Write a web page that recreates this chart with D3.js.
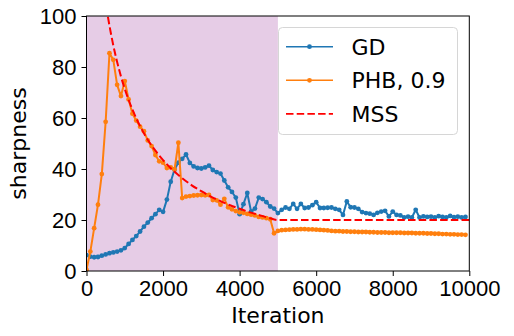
<!DOCTYPE html>
<html>
<head>
<meta charset="utf-8">
<script src="https://cdn.jsdelivr.net/npm/d3@7"></script>
<style>
  body { margin: 0; background: #fff; }
  svg { display: block; font-family: "DejaVu Sans", sans-serif; }
  .axis text { font-size: 22px; fill: #000; }
  .axis line { stroke: #000; stroke-width: 1; }
</style>
</head>
<body>
<div id="chart"></div>
<script>
// iterations where sharpness was measured
var iterations = [
  0, 100, 200, 300, 400, 500, 600, 700, 800, 900,
  1000, 1100, 1200, 1300, 1400, 1500, 1600, 1700, 1800, 1900,
  2000, 2100, 2200, 2300, 2400, 2500, 2600, 2700, 2800, 2900,
  3000, 3100, 3200, 3300, 3400, 3500, 3600, 3700, 3800, 3900,
  4000, 4100, 4200, 4300, 4400, 4500, 4600, 4700, 4800, 4900,
  5000, 5100, 5200, 5300, 5400, 5500, 5600, 5700, 5800, 5900,
  6000, 6100, 6200, 6300, 6400, 6500, 6600, 6700, 6800, 6900,
  7000, 7100, 7200, 7300, 7400, 7500, 7600, 7700, 7800, 7900,
  8000, 8100, 8200, 8300, 8400, 8500, 8600, 8700, 8800, 8900,
  9000, 9100, 9200, 9300, 9400, 9500, 9600, 9700, 9800, 9900
];

var gdValues = [
  6.2, 5.6, 5.4, 5.5, 6.0, 6.5, 7.0, 7.3, 7.6, 8.1,
  9.0, 10.6, 12.2, 13.7, 15.5, 17.4, 19.0, 20.7, 22.3, 24.0,
  23.2, 28.0, 35.0, 39.8, 42.5, 44.0, 45.7, 42.4, 41.0, 40.4,
  40.2, 40.6, 41.3, 39.6, 38.8, 38.2, 35.5, 32.8, 31.0, 28.8,
  22.3, 26.2, 30.6, 23.3, 24.5, 28.8, 28.2, 27.0, 25.3, 24.5,
  22.7, 24.0, 24.9, 24.4, 26.3, 24.4, 26.3, 24.7, 24.9, 25.8,
  27.0, 24.7, 24.7, 24.8, 24.9, 24.4, 24.0, 22.0, 27.3, 25.0,
  24.9, 24.4, 23.1, 22.7, 22.5, 22.0, 22.8, 23.3, 23.6, 21.4,
  23.3, 22.0, 21.8, 21.0, 21.3, 21.0, 24.0, 21.0, 21.4, 21.2,
  21.3, 21.0, 21.5, 21.2, 21.0, 21.6, 21.1, 21.3, 21.0, 21.2
];

var phbValues = [
  0.5, 7.6, 16.8, 26.0, 38.0, 58.5, 85.4, 82.8, 73.0, 68.6,
  74.5, 67.3, 61.7, 59.0, 56.6, 54.8, 51.2, 49.0, 45.5, 43.0,
  42.5, 40.4, 40.6, 39.8, 50.3, 28.6, 29.2, 29.4, 29.6, 29.7,
  29.8, 29.7, 29.8, 27.8, 27.7, 26.0, 28.3, 25.0, 24.2, 23.5,
  23.0, 22.8, 22.4, 22.1, 21.8, 21.2, 21.0, 20.7, 20.3, 14.8,
  15.7, 16.0, 16.1, 16.2, 16.3, 16.3, 16.4, 16.4, 16.3, 16.3,
  16.2, 16.1, 16.0, 15.9, 15.7, 15.6, 15.6, 15.5, 15.5, 15.4,
  15.4, 15.3, 15.3, 15.3, 15.2, 15.2, 15.1, 15.1, 15.1, 15.0,
  15.0, 15.0, 15.0, 14.9, 14.9, 14.9, 14.8, 14.8, 14.8, 14.7,
  14.7, 14.6, 14.6, 14.5, 14.5, 14.4, 14.4, 14.3, 14.3, 14.2
];

// maximum stable sharpness
var mssIterations = [400, 500, 600, 700, 800, 900, 1000, 1200, 1400, 1600, 1800, 2000,
  2250, 2500, 2750, 3000, 3250, 3500, 3750, 4000, 4250, 4500, 4750, 5000, 10000];
var mssValues = [116.3, 105.3, 96.2, 88.5, 82.0, 76.3, 71.4, 63.3, 56.8, 51.5, 47.2, 43.5,
  39.6, 36.4, 33.6, 31.3, 29.2, 27.4, 25.8, 24.4, 23.1, 22.0, 20.9, 20.0, 20.0];

var xTicks = [0, 2000, 4000, 6000, 8000, 10000];
var yTicks = [0, 20, 40, 60, 80, 100];
var warmupEnd = 5000;

var width = 514;
var height = 336;
var margin = { top: 16, right: 45, bottom: 65, left: 86.5 };
var w = 469.3 - margin.left;
var h = 271 - margin.top;

var svg = d3.select('#chart').append('svg')
    .attr('width', width)
    .attr('height', height);

var g = svg.append('g')
    .attr('transform', 'translate(' + margin.left + ',' + margin.top + ')');

var x = d3.scaleLinear().domain([0, 10000]).range([0, w]);
var y = d3.scaleLinear().domain([0, 100]).range([h, 0]);

g.append('clipPath').attr('id', 'clip')
  .append('rect').attr('width', w).attr('height', h);

var plot = g.append('g').attr('clip-path', 'url(#clip)');

// shaded warmup region
plot.append('rect')
    .attr('x', x(0))
    .attr('y', 0)
    .attr('width', x(warmupEnd) - x(0))
    .attr('height', h)
    .attr('fill', 'purple')
    .attr('fill-opacity', 0.2);

var gdData = iterations.map((t, i) => ({ t: t, v: gdValues[i] }));
var phbData = iterations.map((t, i) => ({ t: t, v: phbValues[i] }));
var mssData = mssIterations.map((t, i) => ({ t: t, v: mssValues[i] }));

var line = d3.line().x(d => x(d.t)).y(d => y(d.v));

function drawSeries(data, color) {
  plot.append('path')
      .datum(data)
      .attr('fill', 'none')
      .attr('stroke', color)
      .attr('stroke-width', 2)
      .attr('stroke-linejoin', 'round')
      .attr('d', line);
  plot.append('g').selectAll('circle')
      .data(data)
      .enter().append('circle')
      .attr('cx', d => x(d.t))
      .attr('cy', d => y(d.v))
      .attr('r', 2.4)
      .attr('fill', color);
}

drawSeries(gdData, '#1f77b4');
drawSeries(phbData, '#ff7f0e');

plot.append('path')
    .datum(mssData)
    .attr('fill', 'none')
    .attr('stroke', 'red')
    .attr('stroke-width', 2)
    .attr('stroke-dasharray', '7.5,3.2')
    .attr('d', line.curve(d3.curveMonotoneX));

// axes
var xAxis = g.append('g')
    .attr('class', 'axis')
    .attr('transform', 'translate(0,' + h + ')')
    .call(d3.axisBottom(x).tickValues(xTicks).tickFormat(d3.format('d')).tickSize(5).tickPadding(4));
xAxis.select('.domain').remove();

var yAxis = g.append('g')
    .attr('class', 'axis')
    .call(d3.axisLeft(y).tickValues(yTicks).tickFormat(d3.format('d')).tickSize(5).tickPadding(5));
yAxis.select('.domain').remove();

g.append('rect')
    .attr('width', w)
    .attr('height', h)
    .attr('fill', 'none')
    .attr('stroke', '#000')
    .attr('stroke-width', 1);

svg.append('text')
    .attr('x', margin.left + w / 2)
    .attr('y', 323)
    .attr('text-anchor', 'middle')
    .attr('font-size', 22)
    .text('Iteration');

svg.append('text')
    .attr('transform', 'translate(26,' + (margin.top + h / 2) + ') rotate(-90)')
    .attr('text-anchor', 'middle')
    .attr('font-size', 22)
    .text('sharpness');

// legend
var legend = svg.append('g');
legend.append('rect')
    .attr('x', 278.5)
    .attr('y', 27.5)
    .attr('width', 179)
    .attr('height', 107)
    .attr('rx', 4)
    .attr('fill', '#fff')
    .attr('fill-opacity', 0.8)
    .attr('stroke', '#d6d6d6');

var legendItems = [
  { name: 'GD', color: '#1f77b4', dash: null },
  { name: 'PHB, 0.9', color: '#ff7f0e', dash: null },
  { name: 'MSS', color: 'red', dash: '7.5,3.2' }
];

legendItems.forEach(function(item, i) {
  var ly = 46.7 + i * 33.6;
  legend.append('line')
      .attr('x1', 286).attr('x2', 333)
      .attr('y1', ly).attr('y2', ly)
      .attr('stroke', item.color)
      .attr('stroke-width', item.dash ? 1.8 : 1.6)
      .attr('stroke-dasharray', item.dash);
  if (!item.dash) {
    legend.append('circle')
        .attr('cx', 309.5).attr('cy', ly).attr('r', 2.4)
        .attr('fill', item.color);
  }
  legend.append('text')
      .attr('x', 351.5)
      .attr('y', ly + 8)
      .attr('font-size', 22)
      .text(item.name);
});
</script>
</body>
</html>
